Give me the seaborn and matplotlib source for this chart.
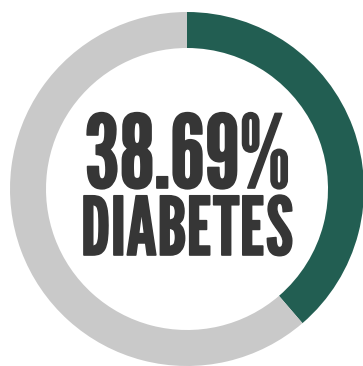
import matplotlib
matplotlib.use("Agg")
import matplotlib.pyplot as plt
import matplotlib.patheffects as pe
import seaborn as sns

labels = ["Diabetes", "Other"]
values = [38.69, 61.31]
colors = ["#225e52", "#c9c9c9"]
headline = "38.69%"
caption = "DIABETES"

sns.set_theme(style="white")
plt.rcParams["font.family"] = ["League Gothic", "DejaVu Sans"]

W, H = 363, 366
fig = plt.figure(figsize=(W / 100, H / 100), dpi=100)
ax = fig.add_axes([0, 0, 1, 1])

ax.pie(values, colors=colors, startangle=90, counterclock=False,
       center=(187, H - 189), radius=177,
       wedgeprops=dict(width=36, linewidth=0))
ax.set_xlim(0, W)
ax.set_ylim(0, H)
ax.set_aspect("equal")
ax.axis("off")

text_color = "#363636"
thick = [pe.withStroke(linewidth=1.2, foreground=text_color)]
ax.text(187, H - 188, headline, ha="center", va="baseline",
        fontsize=73, color=text_color, path_effects=thick)
ax.text(187, H - 255, caption, ha="center", va="baseline",
        fontsize=58, color=text_color, path_effects=thick)

fig.savefig("out.png", dpi=100)
